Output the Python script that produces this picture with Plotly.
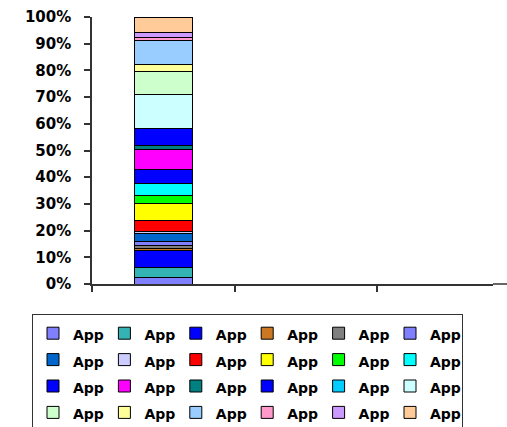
import plotly.graph_objects as go

# Category slots on the x axis (only the first one holds data)
categories = ["Q1", "Q2", "Q3"]

# Series names and their share (%) of the single stacked column
series_names = ["App"] * 24
shares = [2.6, 3.7, 6.1, 1.0, 1.2, 1.4, 2.8, 1.0, 3.9, 6.5, 2.8, 4.6,
          5.4, 7.5, 1.2, 6.5, 0.0, 12.7, 8.6, 2.6, 9.0, 1.1, 1.9, 5.8]
colors = ["#8080FF", "#33B3B3", "#0000FF", "#CC7722", "#808080", "#8080FF",
          "#0066CC", "#CCCCFF", "#FF0000", "#FFFF00", "#00FF00", "#00FFFF",
          "#0000FF", "#FF00FF", "#008080", "#0000FF", "#00CCFF", "#CCFFFF",
          "#CCFFCC", "#FFFF99", "#99CCFF", "#FF99CC", "#CC99FF", "#FFCC99"]

y_ticks = list(range(0, 101, 10))
y_labels = [f"{t}%" for t in y_ticks]

W, H = 507, 427
M_L, M_R, M_T, M_B = 92, 14, 17, 143
plot_w = W - M_L - M_R
plot_h = H - M_T - M_B
slot_px = 142.5  # width of one category slot in pixels

fig = go.Figure()
for name, val, col in zip(series_names, shares, colors):
    fig.add_trace(go.Bar(
        x=[categories[0]], y=[val],
        name=f"<span style='font-size:14px'>{name}</span>",
        marker=dict(color=col, line=dict(color="#000000", width=1)),
        width=0.41,
    ))

axis_col = "#333333"

fig.update_layout(
    barmode="stack",
    width=W, height=H,
    margin=dict(l=M_L, r=M_R, t=M_T, b=M_B, autoexpand=False),
    paper_bgcolor="white", plot_bgcolor="white",
    font=dict(family="DejaVu Sans", size=14, color="#000000"),
    showlegend=True,
    legend=dict(
        orientation="h",
        traceorder="normal",
        x=(32 - M_L) / plot_w, xanchor="left",
        y=-(314 - (H - M_B)) / plot_h, yanchor="top",
        entrywidth=26.4, entrywidthmode="pixels",
        bordercolor=axis_col, borderwidth=1,
        font=dict(family="DejaVu Sans", size=18, color="#000000", weight="bold"),
        bgcolor="white",
    ),
    xaxis=dict(
        type="category",
        categoryorder="array", categoryarray=categories,
        range=[-0.5, -0.5 + plot_w / slot_px],
        tickson="boundaries",
        ticks="outside", ticklen=6, tickcolor=axis_col, tickwidth=1.5,
        showticklabels=False,
        showline=True, linecolor=axis_col, linewidth=1.5,
        showgrid=False, zeroline=False,
    ),
    yaxis=dict(
        range=[0, 100],
        tickvals=y_ticks, ticktext=y_labels,
        ticks="outside", ticklen=6, tickcolor=axis_col, tickwidth=1.5,
        ticklabelstandoff=10,
        tickfont=dict(family="DejaVu Sans", size=15, color="#000000", weight="bold"),
        showline=True, linecolor=axis_col, linewidth=1.5,
        showgrid=False, zeroline=False,
    ),
    # the category axis line continues to the right edge of the page
    shapes=[dict(type="line", xref="paper", yref="paper",
                 x0=1, x1=1 + M_R / plot_w, y0=0, y1=0,
                 line=dict(color=axis_col, width=1.5))],
)

fig.write_html("out.html")
